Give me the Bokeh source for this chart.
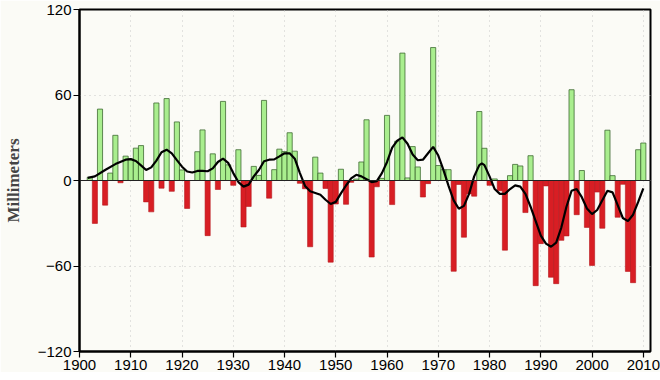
from bokeh.plotting import figure
from bokeh.models import FixedTicker, Span
from bokeh.embed import file_html
from bokeh.resources import INLINE

years = list(range(1902, 2011))
values = [
    2.2, -30.1, 50.1, -17.3, 5.2, 31.7, -1.6, 17.1, 15.0,          # 1902-1910
    22.7, 24.5, -15.0, -22.0, 54.4, -5.4, 57.5, -7.6, 41.1, 7.4,   # 1911-1920
    -19.6, 0.0, 20.2, 35.5, -38.7, 18.7, -6.3, 55.5, 11.0, -3.4,   # 1921-1930
    21.6, -32.6, -18.2, 9.9, 3.6, 56.2, -12.4, 7.6, 22.0, 20.3,    # 1931-1940
    33.5, 20.6, -2.0, -5.8, -46.5, 16.4, 5.2, -5.6, -57.3, -16.5,  # 1941-1950
    7.9, -16.7, -1.3, 1.0, 13.0, 42.6, -53.7, -4.4, 1.5, 45.7,     # 1951-1960
    -16.9, 27.6, 89.4, 1.8, 23.8, 9.5, -11.6, -2.2, 93.3, 10.5,    # 1961-1970
    7.6, 7.6, -63.7, -2.8, -39.8, -9.4, -11.0, 48.4, 22.6, -3.4,   # 1971-1980
    1.1, -7.2, -48.9, 3.4, 11.3, 10.2, -22.5, 17.4, -73.8, -44.3,  # 1981-1990
    -3.8, -67.9, -72.4, -42.0, -38.9, 63.7, -24.0, 7.0, -32.9, -59.6,  # 1991-2000
    -8.1, -33.5, 35.3, 3.4, -25.8, -2.7, -63.8, -71.7, 21.6, 26.3, # 2001-2010
]

smooth_years = [1901.6, 1903, 1905, 1907, 1909, 1910, 1911, 1912, 1913, 1914,
                1915, 1916, 1917, 1918, 1919, 1920, 1921, 1922, 1923, 1924,
                1925, 1926, 1927, 1928, 1929, 1930, 1931, 1932, 1933, 1934,
                1935, 1936, 1937, 1938, 1939, 1940, 1941, 1942, 1943, 1944,
                1945, 1946, 1947, 1948, 1949, 1950, 1951, 1952, 1953, 1954,
                1955, 1956, 1957, 1958, 1959, 1960, 1961, 1962, 1963, 1964,
                1965, 1966, 1967, 1968, 1969, 1970, 1971, 1972, 1973, 1974,
                1975, 1976, 1977, 1978, 1978.5, 1979, 1980, 1981, 1982, 1983,
                1984, 1985, 1986, 1987, 1988, 1989, 1990, 1991, 1992, 1993,
                1994, 1995, 1996, 1997, 1998, 1999, 2000, 2001, 2002, 2003,
                2004, 2005, 2006, 2007, 2008, 2009, 2010]
smooth_vals = [1.8, 2.9, 7.4, 11.5, 14.6, 15.0, 13.7, 10.6, 7.4, 9.2,
               14.0, 19.8, 21.6, 19.0, 14.3, 9.7, 6.3, 5.6, 6.7, 6.7,
               6.5, 8.5, 13.0, 15.3, 12.4, 5.2, -1.1, -4.3, -2.9, 2.9,
               7.4, 13.5, 14.6, 14.8, 16.9, 19.1, 19.1, 15.3, 5.2, -3.8,
               -7.6, -8.8, -10.0, -13.5, -16.5, -15.0, -9.0, -3.5, 1.5, 4.0,
               2.9, 0.9, -1.1, -0.4, 5.2, 13.0, 23.1, 28.0, 30.3, 25.8,
               18.2, 14.2, 14.6, 19.1, 23.6, 17.5, 7.4, -3.8, -13.9, -19.8,
               -17.8, -9.4, 2.9, 10.8, 12.0, 10.8, 2.9, -6.0, -9.4, -9.4,
               -6.0, -3.4, -4.3, -9.4, -18.4, -28.5, -38.7, -44.3, -46.5, -43.6,
               -33.0, -18.4, -7.2, -6.0, -11.7, -19.6, -23.6, -20.7, -13.9, -7.2,
               -8.3, -17.3, -26.3, -28.5, -24.0, -15.0, -5.6]

x_ticks = [1900, 1910, 1920, 1930, 1940, 1950, 1960, 1970, 1980, 1990, 2000, 2010]
y_ticks = [-120, -60, 0, 60, 120]

pos_years = [y for y, v in zip(years, values) if v >= 0]
pos_vals = [v for v in values if v >= 0]
neg_years = [y for y, v in zip(years, values) if v < 0]
neg_vals = [v for v in values if v < 0]

BG = "#fbfbf6"

p = figure(output_backend="svg", toolbar_location=None,
           x_range=(1900, 2011.4), y_range=(-120, 120),
           frame_width=571, frame_height=342,
           min_border_left=69, min_border_top=9, min_border_right=10,
           min_border_bottom=8,
           background_fill_color=BG, border_fill_color=BG)

p.outline_line_color = "black"
p.outline_line_width = 2

p.vbar(x=neg_years, top=neg_vals, bottom=0, width=1.0,
       fill_color="#d81e24", line_color="#b5151b", line_width=0.6)
p.vbar(x=pos_years, top=pos_vals, bottom=0, width=1.0,
       fill_color="#a9ee8e", line_color="#3f6b32", line_width=0.8)

p.add_layout(Span(location=0, dimension="width", line_color="#222222", line_width=1))

p.line(smooth_years, smooth_vals, line_color="black", line_width=2.2)

p.xaxis.ticker = FixedTicker(ticks=x_ticks)
p.yaxis.ticker = FixedTicker(ticks=y_ticks)
p.xaxis.minor_tick_line_color = None
p.yaxis.minor_tick_line_color = None
for ax in (p.xaxis, p.yaxis):
    ax.major_tick_in = 0
    ax.major_tick_out = 6
    ax.axis_line_color = "black"
    ax.axis_line_width = 2
    ax.major_tick_line_width = 1.2
    ax.major_label_text_font = "Liberation Sans"
    ax.major_label_text_font_size = "15px"
    ax.major_label_text_color = "black"
    ax.major_label_standoff = 2

p.yaxis.axis_label = "Millimeters"
p.yaxis.axis_label_text_font = "Liberation Serif"
p.yaxis.axis_label_text_font_style = "bold"
p.yaxis.axis_label_text_font_size = "17px"
p.yaxis.axis_label_standoff = 12

p.xgrid.grid_line_color = "#c8c8c8"
p.xgrid.grid_line_dash = "1 4"
p.ygrid.grid_line_color = "#c8c8c8"
p.ygrid.grid_line_dash = "1 4"

open("out.html", "w").write(file_html(p, INLINE))
